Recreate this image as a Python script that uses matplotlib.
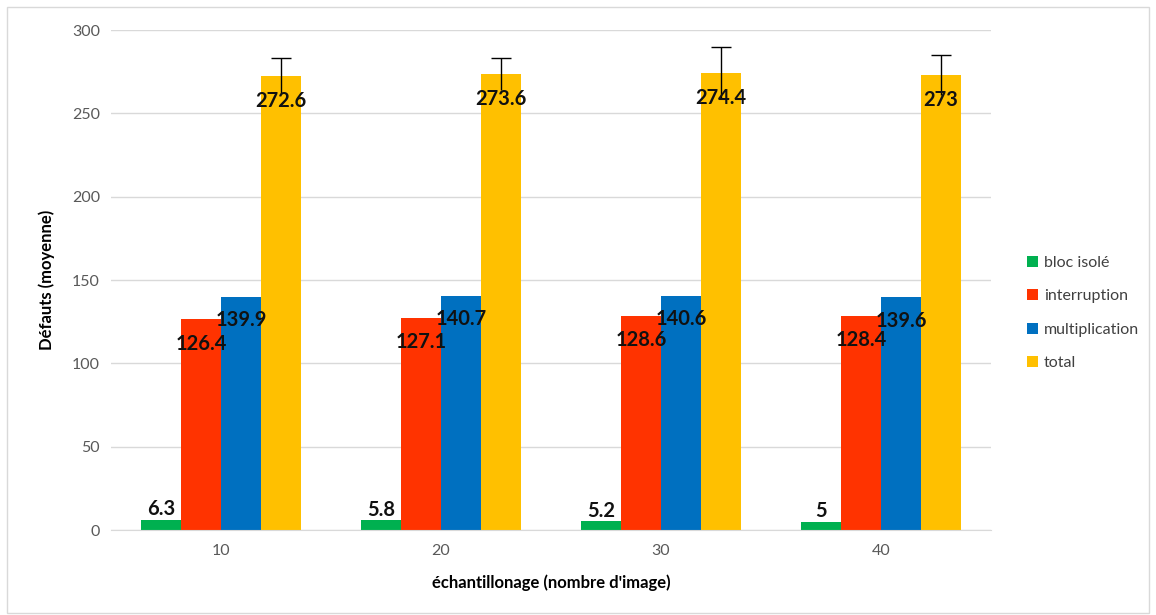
import matplotlib
matplotlib.use("Agg")
import matplotlib.pyplot as plt
import numpy as np
from matplotlib.patches import Rectangle

categories = ["10", "20", "30", "40"]
series_names = ["bloc isolé", "interruption", "multiplication", "total"]
bloc_isole = [6.3, 5.8, 5.2, 5.0]
interruption = [126.4, 127.1, 128.6, 128.4]
multiplication = [139.9, 140.7, 140.6, 139.6]
total = [272.6, 273.6, 274.4, 273.0]
total_err = [10.6, 9.6, 15.2, 11.8]
labels_total = ["272.6", "273.6", "274.4", "273"]
labels_bloc = ["6.3", "5.8", "5.2", "5"]
colors = ["#00B050", "#FF3300", "#0070C0", "#FFC000"]

plt.rcParams['font.family'] = ['Lato', 'DejaVu Sans']

fig = plt.figure(figsize=(11.56, 6.15), dpi=100)
fig.patches.append(Rectangle((0.006, 0.004), 0.988, 0.985, transform=fig.transFigure,
                             fill=False, edgecolor="#D9D9D9", linewidth=1.0))
ax = fig.add_axes([0.096, 0.1382, 0.7612, 0.813])

x = np.arange(len(categories))
w = 40 / 220
offsets = np.array([-1.5, -0.5, 0.5, 1.5]) * w
data = [bloc_isole, interruption, multiplication, total]

for i, (vals, c, name) in enumerate(zip(data, colors, series_names)):
    ax.bar(x + offsets[i], vals, width=w, color=c, label=name, zorder=2)

eb = ax.errorbar(x + offsets[3], total, yerr=total_err, fmt="none", ecolor="black",
                 elinewidth=1.0, capsize=7, capthick=1.0, zorder=3)
caplines = eb.lines[1]
if len(caplines) == 2:
    caplines[0].set_visible(False)

lab_kw = dict(ha="center", va="center", fontsize=14.5, fontweight="bold", color="#111111", zorder=4)
for j in range(len(categories)):
    ax.text(x[j] + offsets[0], bloc_isole[j] + 6.5, labels_bloc[j], **lab_kw)
    ax.text(x[j] + offsets[1], interruption[j] - 14.5, f"{interruption[j]:.1f}", **lab_kw)
    ax.text(x[j] + offsets[2], multiplication[j] - 14, f"{multiplication[j]:.1f}", **lab_kw)
    ax.text(x[j] + offsets[3], total[j] - 15, labels_total[j], **lab_kw)

ax.set_xlim(-0.5, 3.5)
ax.set_ylim(0, 300)
ax.set_yticks(np.arange(0, 301, 50))
ax.set_xticks(x)
ax.set_xticklabels(categories)
ax.tick_params(axis="both", length=0, labelsize=11.5, labelcolor="#595959", pad=10)
ax.tick_params(axis="y", pad=8)
ax.grid(axis="y", color="#D9D9D9", linewidth=1.0, zorder=0)
ax.set_axisbelow(True)
for s in ["top", "right", "left"]:
    ax.spines[s].set_visible(False)
ax.spines["bottom"].set_color("#D9D9D9")

ax.set_xlabel("échantillonage (nombre d'image)", fontsize=12, fontweight="bold", labelpad=12)
ax.set_ylabel("Défauts (moyenne)", fontsize=12, fontweight="bold", labelpad=12)

ax.legend(loc="center left", bbox_to_anchor=(1.025, 0.434), frameon=False, fontsize=11.5,
          handlelength=0.7, handleheight=0.7, handletextpad=0.35, labelspacing=1.2,
          labelcolor="#404040")

fig.savefig("out.png", dpi=100)
